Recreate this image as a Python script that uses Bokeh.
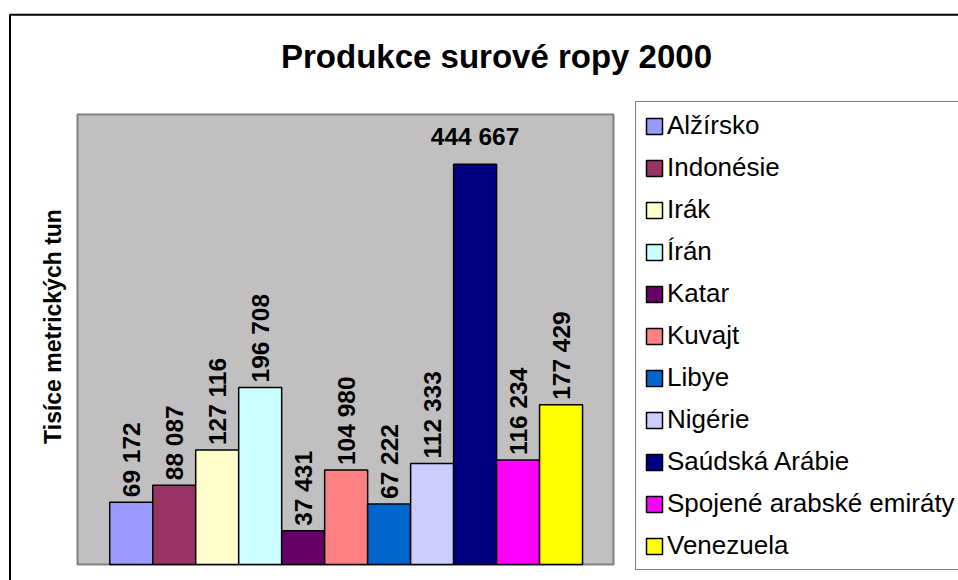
import numpy as np
from bokeh.plotting import figure
from bokeh.models import ColumnDataSource, Range1d, Legend, LegendItem, Label, BoxAnnotation
from bokeh.core.properties import value
from bokeh.embed import file_html
from bokeh.resources import INLINE

# ---------------- data ----------------
countries = ["Alžírsko", "Indonésie", "Irák", "Írán", "Katar", "Kuvajt", "Libye",
             "Nigérie", "Saúdská Arábie", "Spojené arabské emiráty", "Venezuela"]
production = [69172, 88087, 127116, 196708, 37431, 104980, 67222,
              112333, 444667, 116234, 177429]
colors = ["#9999FF", "#993366", "#FFFFCC", "#CCFFFF", "#660066", "#FF8080",
          "#0066CC", "#CCCCFF", "#000080", "#FF00FF", "#FFFF00"]
title_text = "Produkce surové ropy 2000"
y_title = "Tisíce metrických tun"
y_max = 500000

# ---------------- layout (canvas px) ----------------
W, H = 958, 580
PX_L, PX_R, PY_T, PY_B = 77, 613, 114, 564     # plot area
FONT = "Liberation Sans"

n = len(countries)
xs = list(range(n))
labels = [f"{v:,}".replace(",", " ") for v in production]

xa, xb = -1.25, n - 1 + 1.22                   # plot-area data bounds (x)
sx = (xb - xa) / (PX_R - PX_L)                 # data units per px
sy = y_max / (PY_B - PY_T)
x_range = Range1d(xa - PX_L * sx, xb + (W - PX_R) * sx)
y_range = Range1d(0 - (H - PY_B) * sy, y_max + PY_T * sy)


def X(px):
    return x_range.start + px * sx


def Y(py):
    return y_range.end - py * sy


p = figure(width=W, height=H, output_backend="svg", toolbar_location=None,
           x_range=x_range, y_range=y_range, title=None,
           x_axis_location=None, y_axis_location=None,
           min_border_left=0, min_border_right=0,
           min_border_top=0, min_border_bottom=0,
           background_fill_color="white", border_fill_color="white",
           outline_line_color=None)
p.grid.visible = False

# plot area (value axis 0 .. y_max)
p.quad(left=xa, right=xb, bottom=0, top=y_max,
       fill_color="#C0C0C0", line_color="#808080", line_width=2)

src = ColumnDataSource(dict(x=xs, top=production, country=countries,
                            color=colors, label=labels))
bars = p.vbar(x="x", top="top", bottom=0, width=1.0, source=src,
              fill_color="color", line_color="black", line_width=1.5)

# data labels: rotated when they fit under the plot top, otherwise horizontal
label_len_px = 8 + 90
fits = [v + label_len_px * sy < y_max for v in production]
rot = ColumnDataSource(dict(x=[x for x, f in zip(xs, fits) if f],
                            y=[v for v, f in zip(production, fits) if f],
                            t=[l for l, f in zip(labels, fits) if f]))
flat = ColumnDataSource(dict(x=[x for x, f in zip(xs, fits) if not f],
                             y=[v for v, f in zip(production, fits) if not f],
                             t=[l for l, f in zip(labels, fits) if not f]))
p.text(x="x", y="y", text="t", source=rot, angle=np.pi / 2,
       text_align="left", text_baseline="middle", y_offset=-5,
       text_font=value(FONT), text_font_style="bold", text_font_size="24.5px",
       text_color="black")
p.text(x="x", y="y", text="t", source=flat,
       text_align="center", text_baseline="alphabetic", y_offset=-28,
       text_font=value(FONT), text_font_style="bold", text_font_size="24.5px",
       text_color="black")

# chart title
p.add_layout(Label(x=X(496), y=Y(56), text=title_text,
                   text_align="center", text_baseline="middle",
                   text_font=FONT, text_font_style="bold", text_font_size="33px",
                   text_color="black"))

# value axis title
p.add_layout(Label(x=X(52), y=Y(326), text=y_title, angle=np.pi / 2,
                   text_align="center", text_baseline="middle",
                   text_font=FONT, text_font_style="bold", text_font_size="23px",
                   text_color="black"))

# legend
items = [LegendItem(label=c, renderers=[bars], index=i) for i, c in enumerate(countries)]
legend = Legend(items=items, location=(635, H - 570),
                label_text_font=FONT, label_text_font_size="26px",
                label_text_color="black",
                glyph_width=20, glyph_height=20, label_standoff=3,
                padding=8, spacing=11, margin=0,
                border_line_color="black", border_line_width=1.5,
                background_fill_color="white", background_fill_alpha=1.0)
p.add_layout(legend)

# outer chart border
p.add_layout(BoxAnnotation(left=X(9.5), top=Y(14.3), right=X(W + 60), bottom=Y(H + 60),
                           fill_alpha=0, line_color="black", line_alpha=1.0,
                           line_width=2))

open("out.html", "w").write(file_html(p, INLINE))
